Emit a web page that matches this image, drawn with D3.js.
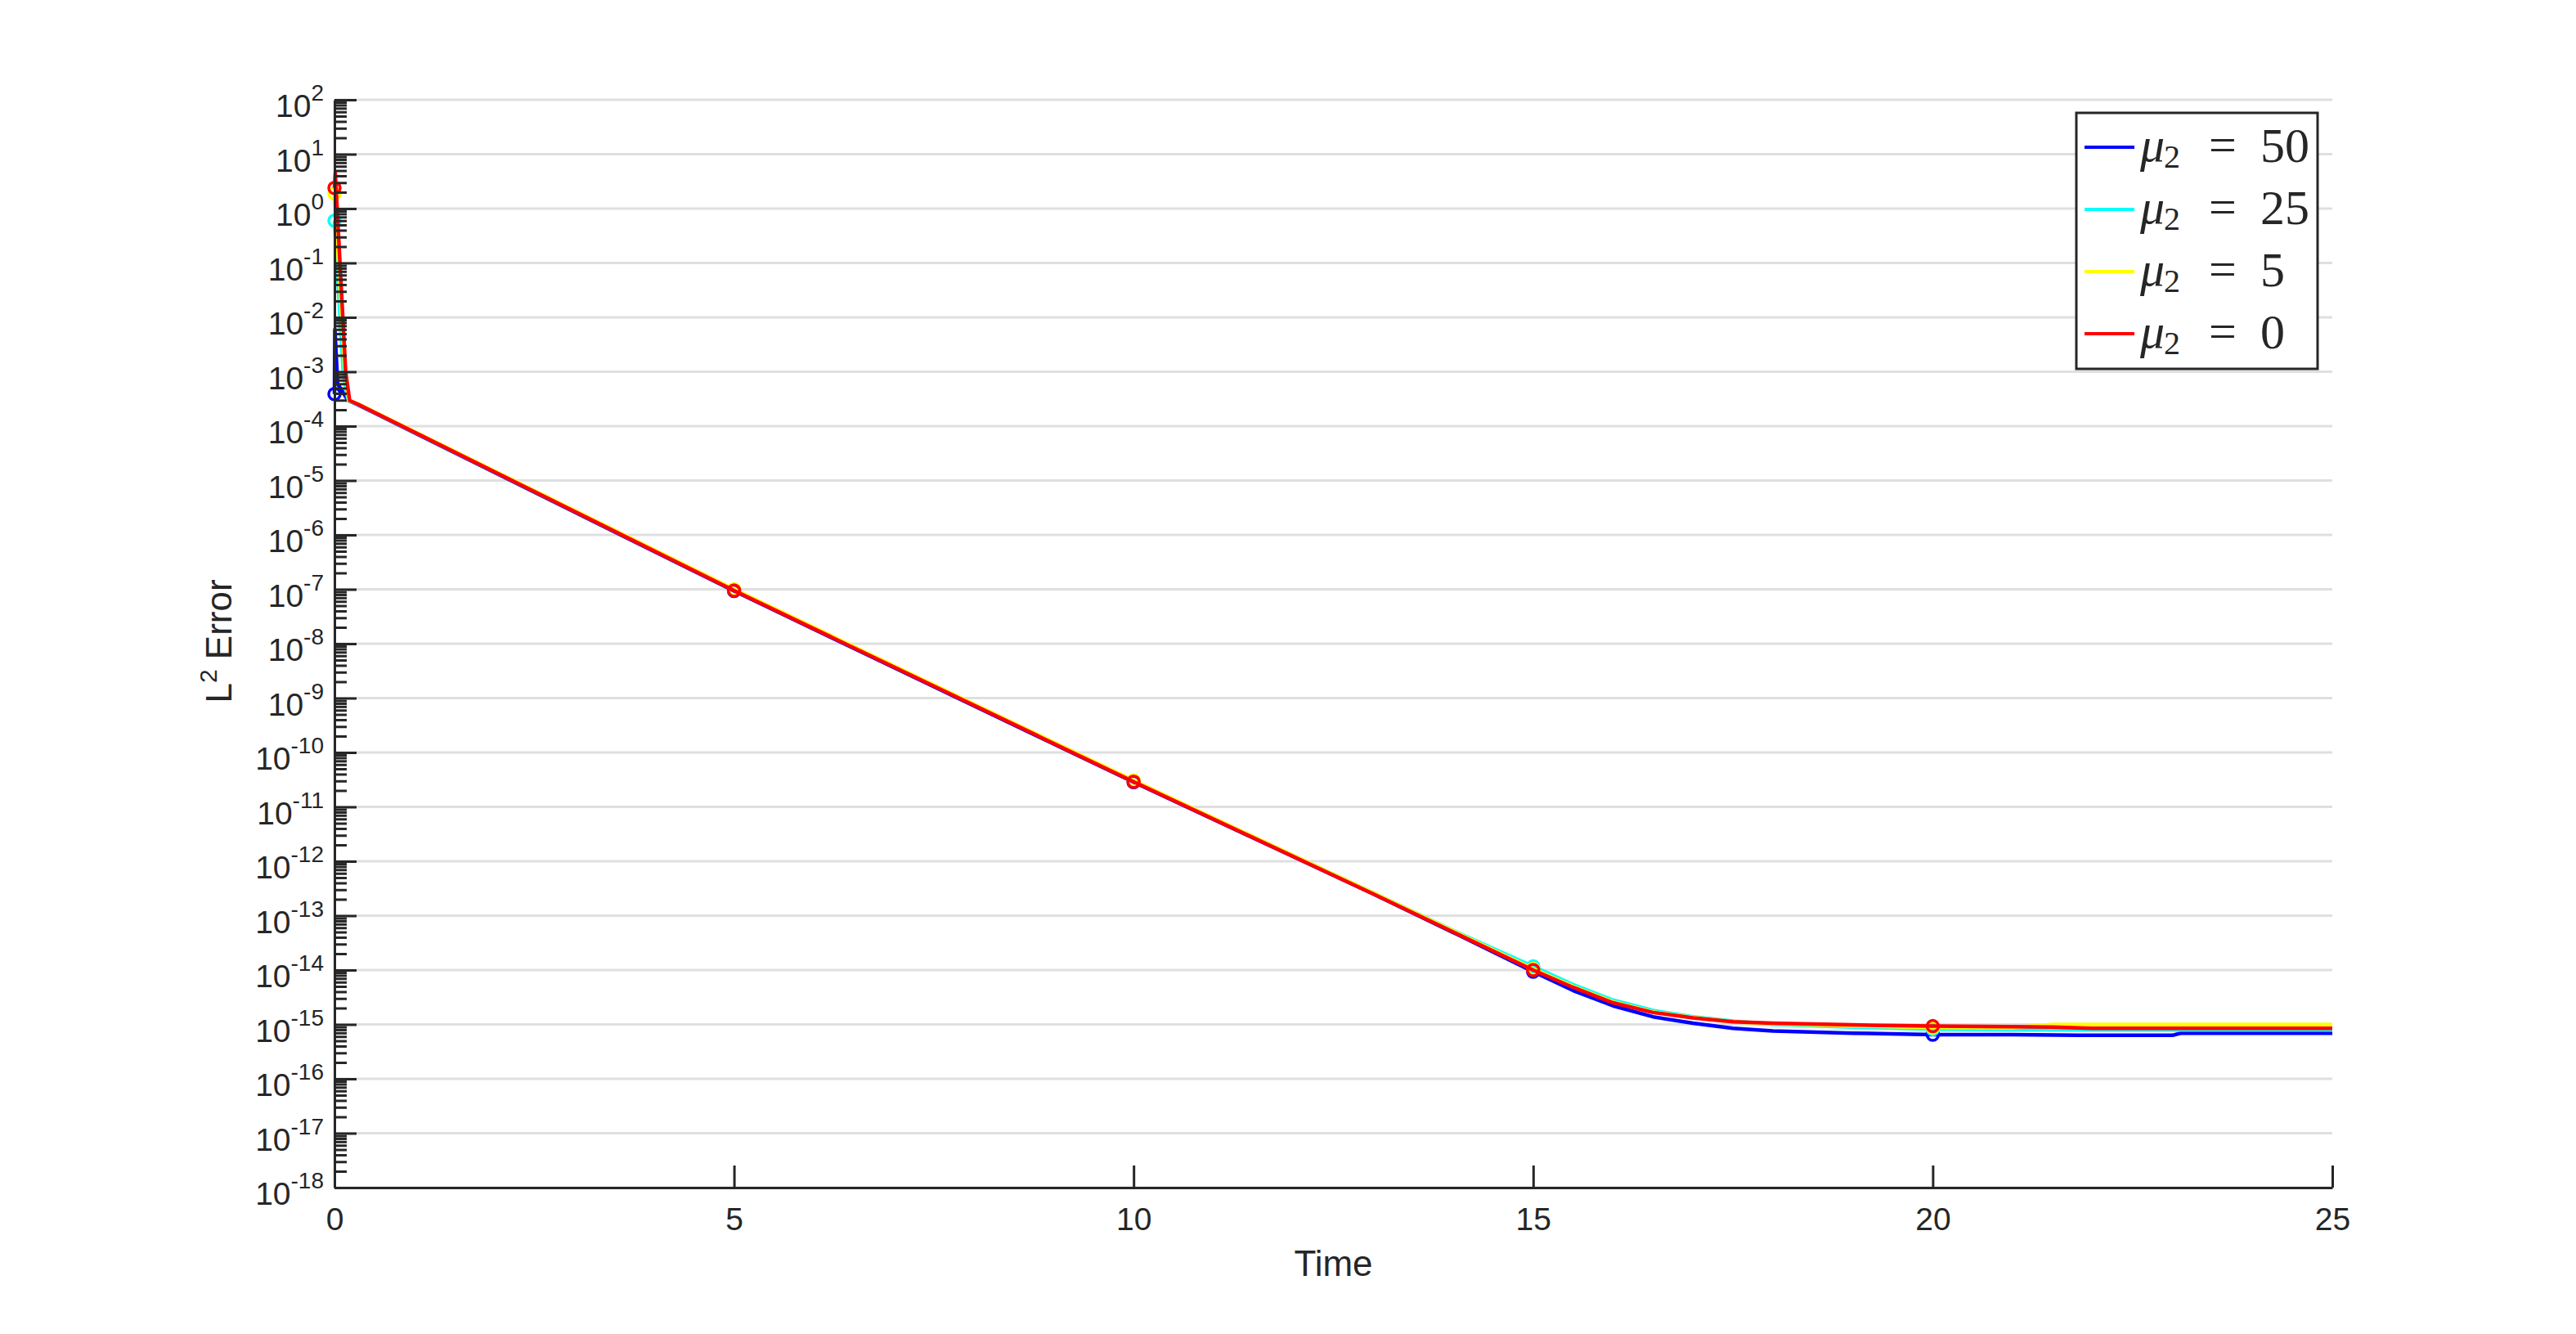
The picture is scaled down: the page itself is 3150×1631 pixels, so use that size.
<!DOCTYPE html>
<html>
<head>
<meta charset="utf-8">
<script src="https://cdn.jsdelivr.net/npm/d3@7/dist/d3.min.js"></script>
<style>
  body { margin: 0; background: #fff; }
  text { font-family: "Liberation Sans", Arial, Helvetica, sans-serif; fill: #262626; }
</style>
</head>
<body>
<div id="vis"></div>
<script>
// series data (time, L2 error)
const tBlue = [0, 0.005, 0.04, 0.17, 0.3, 5, 10, 13, 14, 15, 15.5, 16, 16.5, 17, 17.5, 18, 19, 20, 21, 22, 23, 23.1, 24, 25];
const eBlue = [3.9e-4, 6e-3, 6e-4, 2.95e-4, 2.45e-4, 9.3e-8, 2.85e-11, 2.5e-13, 4.9e-14, 9.3e-15, 4.2e-15, 2.2e-15, 1.38e-15, 1.05e-15, 8.5e-16, 7.6e-16, 6.9e-16, 6.5e-16, 6.5e-16, 6.3e-16, 6.3e-16, 6.9e-16, 6.9e-16, 6.9e-16];

const tCyan = [0, 0.11, 0.17, 0.3, 5, 10, 13, 14, 15, 15.5, 16, 16.5, 17, 17.5, 18, 19, 20, 21, 22, 23, 24, 25];
const eCyan = [0.6, 1e-3, 2.95e-4, 2.5e-4, 9.7e-8, 3.0e-11, 2.6e-13, 5.3e-14, 1.17e-14, 5.4e-15, 2.8e-15, 1.8e-15, 1.38e-15, 1.15e-15, 1.0e-15, 8.9e-16, 8.2e-16, 8.0e-16, 7.9e-16, 7.9e-16, 7.9e-16, 7.9e-16];

const tYellow = [0, 0.13, 0.18, 0.3, 5, 10, 13, 14, 15, 15.5, 16, 16.5, 17, 17.5, 18, 19, 20, 21, 21.5, 22, 23, 24, 25];
const eYellow = [1.9, 1e-3, 2.95e-4, 2.55e-4, 1.0e-7, 3.05e-11, 2.6e-13, 5.2e-14, 1.05e-14, 5.0e-15, 2.6e-15, 1.7e-15, 1.34e-15, 1.12e-15, 1.03e-15, 9.4e-16, 8.8e-16, 8.7e-16, 1.0e-15, 1.0e-15, 1.0e-15, 1.0e-15, 1.0e-15];

const tRed = [0, 0.01, 0.14, 0.19, 0.3, 5, 10, 13, 14, 15, 15.5, 16, 16.5, 17, 17.5, 18, 19, 20, 21, 21.5, 22, 23, 24, 25];
const eRed = [2.4, 4.5, 1e-3, 2.95e-4, 2.5e-4, 9.5e-8, 2.9e-11, 2.5e-13, 5.0e-14, 1.0e-14, 4.8e-15, 2.5e-15, 1.66e-15, 1.32e-15, 1.12e-15, 1.05e-15, 9.8e-16, 9.3e-16, 9.1e-16, 8.9e-16, 8.5e-16, 8.5e-16, 8.5e-16, 8.5e-16];

const seriesNames = ['50', '25', '5', '0'];
const seriesColours = ['#0000ff', '#00ffff', '#ffff00', '#ff0000'];
const markerTimes = [0, 5, 10, 15, 20];
const xTicks = [0, 5, 10, 15, 20, 25];
const yExponents = d3.range(-18, 3);

function errorChart(selector) {
  const width = 3150;
  const height = 1631;
  const plot = { left: 409, right: 2852, top: 122, bottom: 1452 };
  const ink = '#262626';

  const svg = d3.select(selector).append('svg')
    .attr('width', width)
    .attr('height', height);

  svg.append('rect').attr('width', width).attr('height', height).attr('fill', '#fff');

  const x = d3.scaleLinear().domain([0, 25]).range([plot.left, plot.right]);
  const y = d3.scaleLog().domain([1e-18, 1e2]).range([plot.bottom, plot.top]);

  const decades = yExponents.map(e => Math.pow(10, e));
  // minor ticks 2..9 inside every decade
  const minors = [];
  yExponents.slice(0, -1).forEach(e => {
    for (let k = 2; k <= 9; k++) minors.push(k * Math.pow(10, e));
  });

  // horizontal grid at every decade
  svg.append('g').selectAll('line')
    .data(decades)
    .enter().append('line')
    .attr('x1', plot.left).attr('x2', plot.right)
    .attr('y1', d => y(d)).attr('y2', d => y(d))
    .attr('stroke', '#dfdfdf')
    .attr('stroke-width', 3);

  // series lines
  const series = [
    { t: tBlue, e: eBlue }, { t: tCyan, e: eCyan },
    { t: tYellow, e: eYellow }, { t: tRed, e: eRed }
  ].map((s, i) => ({
    name: seriesNames[i],
    colour: seriesColours[i],
    points: s.t.map((t, j) => ({ t: t, v: s.e[j] }))
  }));

  const line = d3.line().x(d => x(d.t)).y(d => y(d.v));

  const groups = svg.append('g').selectAll('g')
    .data(series)
    .enter().append('g');

  groups.append('path')
    .attr('d', d => line(d.points))
    .attr('fill', 'none')
    .attr('stroke', d => d.colour)
    .attr('stroke-width', 4.5)
    .attr('stroke-linejoin', 'round');

  groups.selectAll('circle')
    .data(d => d.points.filter(p => markerTimes.includes(p.t)).map(p => ({ ...p, colour: d.colour })))
    .enter().append('circle')
    .attr('cx', d => x(d.t))
    .attr('cy', d => y(d.v))
    .attr('r', 7)
    .attr('fill', 'none')
    .attr('stroke', d => d.colour)
    .attr('stroke-width', 3.5);

  // x axis, ticks pointing inwards
  const xAxis = svg.append('g')
    .attr('transform', `translate(0,${plot.bottom})`)
    .call(d3.axisBottom(x).tickValues(xTicks).tickSizeInner(-27).tickSizeOuter(0).tickPadding(24));
  xAxis.selectAll('text').style('font-size', '39px').attr('fill', ink)
    .attr('y', 52).attr('dy', null);

  // y axis: major and minor ticks
  svg.append('g')
    .attr('transform', `translate(${plot.left},0)`)
    .call(d3.axisLeft(y).tickValues(decades).tickSizeInner(-27).tickSizeOuter(0).tickFormat(() => ''));
  svg.append('g')
    .attr('transform', `translate(${plot.left},0)`)
    .call(d3.axisLeft(y).tickValues(minors).tickSizeInner(-15).tickSizeOuter(0).tickFormat(() => ''))
    .select('.domain').remove();

  svg.selectAll('.domain, .tick line').attr('stroke', ink).attr('stroke-width', 3);

  // 10^n labels
  const yLabels = svg.append('g').selectAll('text')
    .data(yExponents)
    .enter().append('text')
    .attr('x', 396)
    .attr('y', d => y(Math.pow(10, d)) + 21)
    .attr('text-anchor', 'end')
    .style('font-size', '39px');
  yLabels.append('tspan').text('10');
  yLabels.append('tspan').attr('dy', -20).style('font-size', '28px').text(d => d);

  // axis titles
  svg.append('text')
    .attr('x', (plot.left + plot.right) / 2)
    .attr('y', 1560)
    .attr('text-anchor', 'middle')
    .style('font-size', '44px')
    .text('Time');

  const yTitle = svg.append('text')
    .attr('transform', 'translate(283,784) rotate(-90)')
    .attr('text-anchor', 'middle')
    .style('font-size', '44px');
  yTitle.append('tspan').text('L');
  yTitle.append('tspan').attr('dy', -18).style('font-size', '30px').text('2');
  yTitle.append('tspan').attr('dy', 18).text(' Error');

  // legend
  const legend = svg.append('g');
  legend.append('rect')
    .attr('x', 2539).attr('y', 138)
    .attr('width', 295).attr('height', 313)
    .attr('fill', '#fff')
    .attr('stroke', ink)
    .attr('stroke-width', 3);

  const rows = legend.selectAll('g.row')
    .data(series)
    .enter().append('g')
    .attr('class', 'row')
    .attr('transform', (d, i) => `translate(0,${180 + i * 76})`);

  rows.append('line')
    .attr('x1', 2549).attr('x2', 2610)
    .attr('stroke', d => d.colour)
    .attr('stroke-width', 4);

  const serif = '"Liberation Serif", "DejaVu Serif", serif';
  rows.append('text').attr('x', 2617).attr('y', 17)
    .style('font-family', serif).style('font-style', 'italic').style('font-size', '60px')
    .attr('fill', '#000').text('\u03bc');
  rows.append('text').attr('x', 2646).attr('y', 25)
    .style('font-family', serif).style('font-size', '40px')
    .attr('fill', '#000').text('2');
  rows.append('text').attr('x', 2701).attr('y', 17)
    .attr('textLength', 41)
    .style('font-family', serif).style('font-size', '60px')
    .attr('fill', '#000').text('=');
  rows.append('text').attr('x', 2764).attr('y', 18)
    .style('font-family', serif).style('font-size', '60px')
    .attr('fill', '#000').text(d => d.name);
}

errorChart('#vis');
</script>
</body>
</html>
